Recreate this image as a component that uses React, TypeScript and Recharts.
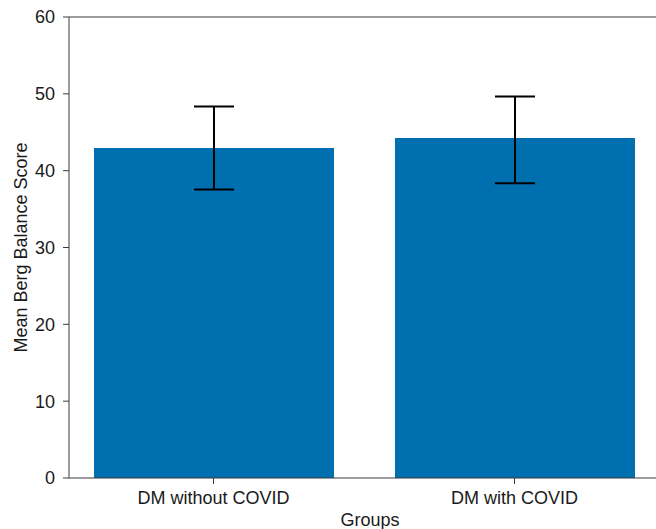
import { Bar, BarChart, ErrorBar, ReferenceLine, XAxis, YAxis } from "recharts";

const groups = ["DM without COVID", "DM with COVID"];
const meanScores = [42.95, 44.25];
// [below, above] half-lengths of the error bars
const scoreErrors: [number, number][] = [
  [5.4, 5.4],
  [5.9, 5.4]
];
const yTicks = [0, 10, 20, 30, 40, 50, 60];

const data = groups.map((group, i) => ({
  group,
  score: meanScores[i],
  err: scoreErrors[i]
}));

const font = '"Liberation Sans", Arial, Helvetica, sans-serif';
const axisColor = "#3a3a3a";
const textColor = "#1a1a1a";
const fontSize = 18;

export default function App() {
  return (
    <div
      style={{
        position: "absolute",
        left: 0,
        top: 0,
        width: 656,
        height: 529,
        overflow: "hidden",
        background: "#fff",
        fontFamily: font
      }}
    >
      <BarChart
        width={680}
        height={529}
        data={data}
        margin={{ top: 17, right: 9, bottom: 0, left: 0 }}
        barSize={240}
      >
        <XAxis
          dataKey="group"
          height={51}
          stroke={axisColor}
          padding={{ left: -6, right: 6 }}
          tickSize={6}
          tickMargin={7}
          tick={{ fill: textColor, fontSize, fontFamily: font }}
          label={{
            value: "Groups",
            position: "insideBottom",
            offset: 3,
            fill: textColor,
            fontSize,
            fontFamily: font
          }}
        />
        <YAxis
          domain={[0, 60]}
          ticks={yTicks}
          width={69}
          stroke={axisColor}
          tickSize={6}
          tickMargin={8}
          tick={{ fill: textColor, fontSize, fontFamily: font }}
          label={{
            value: "Mean Berg Balance Score",
            angle: -90,
            position: "center",
            dx: -14,
            fill: textColor,
            fontSize,
            fontFamily: font
          }}
        />
        <ReferenceLine y={60} stroke={axisColor} strokeWidth={1} />
        <Bar dataKey="score" fill="#006fb0" isAnimationActive={false}>
          <ErrorBar dataKey="err" width={20} stroke="#000" strokeWidth={2} direction="y" />
        </Bar>
      </BarChart>
    </div>
  );
}
